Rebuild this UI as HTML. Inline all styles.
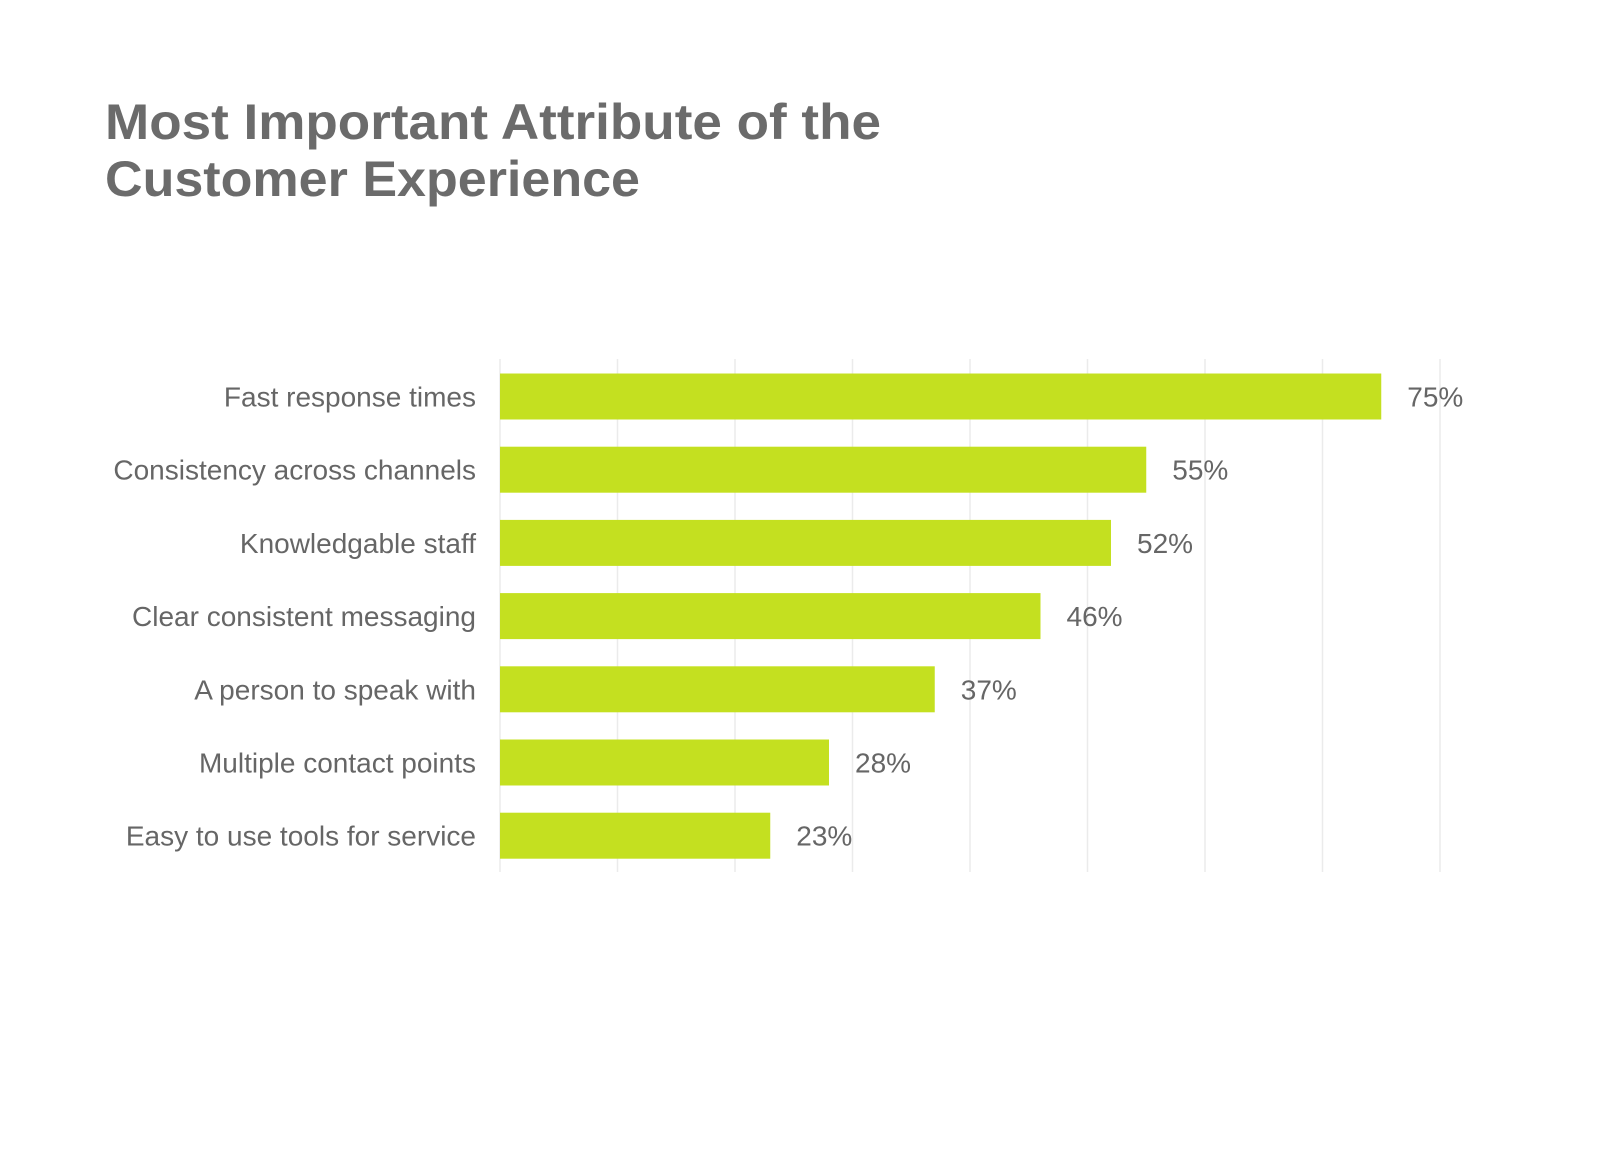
<!DOCTYPE html>
<html><head><meta charset="utf-8"><style>
html,body{margin:0;padding:0;background:#fff;}
svg{display:block;font-family:"Liberation Sans",sans-serif;}
</style></head><body>
<svg id="chart" width="1600" height="1159" viewBox="0 0 1600 1159" xmlns="http://www.w3.org/2000/svg">
<rect width="1600" height="1159" fill="#fff"/>
<g fill="#6b6b6b" font-weight="bold" font-size="50">
<text x="105" y="139" textLength="776" lengthAdjust="spacingAndGlyphs">Most Important Attribute of the</text>
<text x="105" y="196" textLength="535" lengthAdjust="spacingAndGlyphs">Customer Experience</text>
</g>
<g id="grid"></g>
<g id="bars"></g>
</svg>
<script>
const categories = ["Fast response times","Consistency across channels","Knowledgable staff","Clear consistent messaging","A person to speak with","Multiple contact points","Easy to use tools for service"];
const values = [75,55,52,46,37,28,23];
const valueLabels = ["75%","55%","52%","46%","37%","28%","23%"];
const gridTicks = [0,10,20,30,40,50,60,70,80];

const NS="http://www.w3.org/2000/svg";
const x0=500, x1=1440, dMax=80;
const xs=v=>x0+(v/dMax)*(x1-x0);
const barTop=373.5, pitch=73.2, bh=46, gTop=359, gBot=872;
const grid=document.getElementById('grid');
gridTicks.forEach(t=>{
  const l=document.createElementNS(NS,'line');
  l.setAttribute('x1',xs(t));l.setAttribute('x2',xs(t));
  l.setAttribute('y1',gTop);l.setAttribute('y2',gBot);
  l.setAttribute('stroke','#ebebeb');l.setAttribute('stroke-width','1.5');
  
  
  grid.appendChild(l);
});
const g=document.getElementById('bars');
categories.forEach((c,i)=>{
  const y=barTop+i*pitch, cy=y+bh/2;
  const r=document.createElementNS(NS,'rect');
  r.setAttribute('x',xs(0));r.setAttribute('y',y);
  r.setAttribute('width',xs(values[i])-xs(0));r.setAttribute('height',bh);
  r.setAttribute('fill','#c4e020');
  
  
  g.appendChild(r);
  const t=document.createElementNS(NS,'text');
  t.setAttribute('x',476);t.setAttribute('y',cy+10);
  t.setAttribute('text-anchor','end');t.setAttribute('font-size','28');t.setAttribute('fill','#666');
  t.textContent=c;
  
  
  g.appendChild(t);
  const v=document.createElementNS(NS,'text');
  v.setAttribute('x',xs(values[i])+26);v.setAttribute('y',cy+10);
  v.setAttribute('font-size','28');v.setAttribute('fill','#666');
  v.textContent=valueLabels[i];
  
  
  g.appendChild(v);
});
</script>
</body></html>
